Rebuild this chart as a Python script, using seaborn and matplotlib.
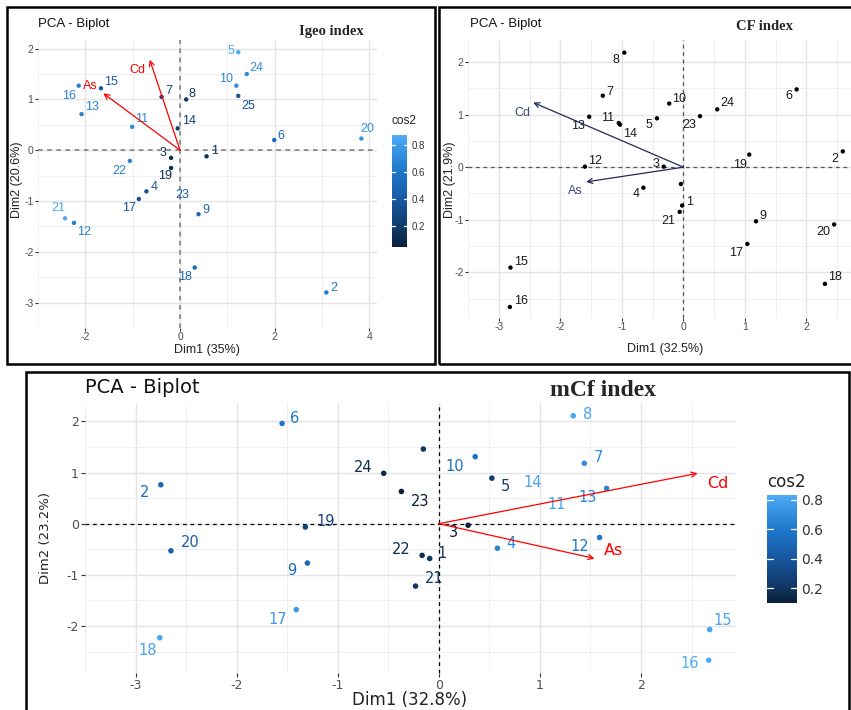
import numpy as np
import pandas as pd
import matplotlib
matplotlib.use("Agg")
import matplotlib.pyplot as plt
import seaborn as sns
from matplotlib.colors import LinearSegmentedColormap, Normalize
from matplotlib.patches import Rectangle

# ---------------- data ----------------
# Igeo index biplot
igeo_labels = [str(i) for i in range(1, 26)]
igeo_dim1 = [0.56, 3.09, -0.19, -0.71, 1.23, 1.99, -0.39, 0.13, 0.39, 1.19,
             -1.01, -2.24, -2.08, -0.05, -1.67, -2.14, -0.87, 0.31, -0.19, 3.83,
             -2.43, -1.06, 0.05, 1.41, 1.23]
igeo_dim2 = [-0.12, -2.80, -0.15, -0.81, 1.93, 0.20, 1.05, 1.00, -1.26, 1.27,
             0.46, -1.43, 0.71, 0.43, 1.22, 1.27, -0.96, -2.31, -0.35, 0.23,
             -1.34, -0.21, -0.89, 1.50, 1.07]
igeo_cos2 = [0.15, 0.60, 0.10, 0.35, 0.85, 0.50, 0.25, 0.15, 0.50, 0.70,
             0.70, 0.65, 0.65, 0.20, 0.40, 0.65, 0.35, 0.50, 0.10, 0.75,
             0.85, 0.65, 0.45, 0.70, 0.35]
igeo_unmarked = ["23"]
igeo_vars = ["As", "Cd"]
igeo_var_dim1 = [-1.62, -0.64]
igeo_var_dim2 = [1.12, 1.78]

# CF index biplot
cf_labels = [str(i) for i in range(1, 25)]
cf_labels[21] = ""
cf_dim1 = [-0.02, 2.59, -0.32, -0.65, -0.43, 1.84, -1.31, -0.96, 1.18, -0.23,
           -1.05, -1.60, -1.53, -1.03, -2.81, -2.82, 1.04, 2.30, 1.07, 2.45,
           -0.06, -0.04, 0.27, 0.55]
cf_dim2 = [-0.73, 0.30, 0.01, -0.39, 0.93, 1.48, 1.36, 2.18, -1.03, 1.21,
           0.84, 0.01, 0.96, 0.81, -1.91, -2.66, -1.46, -2.22, 0.24, -1.09,
           -0.85, -0.32, 0.97, 1.10]
cf_vars = ["As", "Cd"]
cf_var_dim1 = [-1.58, -2.44]
cf_var_dim2 = [-0.28, 1.23]

# mCf index biplot
mcf_labels = [str(i) for i in range(1, 26)]
mcf_labels[24] = ""
mcf_dim1 = [-0.09, -2.75, 0.29, 0.58, 0.525, -1.55, 1.44, 1.33, -1.30, 0.36,
            1.17, 1.59, 1.66, 0.93, 2.68, 2.67, -1.41, -2.76, -1.32, -2.65,
            -0.23, -0.165, -0.37, -0.545, -0.153]
mcf_dim2 = [-0.68, 0.76, -0.03, -0.48, 0.89, 1.96, 1.18, 2.11, -0.77, 1.31,
            0.38, -0.27, 0.69, 0.80, -2.07, -2.67, -1.68, -2.23, -0.065, -0.53,
            -1.22, -0.62, 0.63, 0.985, 1.46]
mcf_cos2 = [0.20, 0.50, 0.10, 0.65, 0.25, 0.60, 0.70, 0.80, 0.50, 0.55,
            0.80, 0.60, 0.65, 0.80, 0.80, 0.83, 0.75, 0.80, 0.30, 0.45,
            0.20, 0.15, 0.10, 0.15, 0.20]
mcf_unmarked = ["11", "14"]
mcf_vars = ["As", "Cd"]
mcf_var_dim1 = [1.54, 2.56]
mcf_var_dim2 = [-0.68, 0.985]

# label offsets (pixels) for the repelled text
igeo_off = [(8, 5), (7, 4), (-8, 5), (8, 4), (-7, 1), (7, 4), (7, 6), (6, 5), (7, 4), (-10, 7),
            (9, 8), (10, -9), (10, 7), (11, 7), (10, 6), (-10, -10), (-10, -9), (-10, -9), (-6, -8), (6, 10),
            (-7, 10), (-11, -10), (0, 0), (10, 6), (10, -10)]
igeo_var_off = [(-13, 7), (-12, -10)]
cf_off = [(7, 4), (-8, -8), (-8, 3), (-7, -6), (-8, -7), (-8, -7), (7, 4), (-8, -7), (7, 5), (10, 5),
          (-11, 5), (10, 6), (-11, -9), (10, -9), (11, 6), (11, 6), (-11, -9), (10, 7), (-9, -10), (-11, -8),
          (-11, -9), (0, 0), (-11, -9), (10, 6)]
cf_var_off = [(-11, -9), (-11, -10)]
mcf_off = [(12, 5), (-16, -8), (-15, -7), (14, 5), (14, -8), (13, 5), (14, 6), (14, 1), (-16, -7), (-20, -10),
           (0, 0), (-20, -9), (-19, -9), (0, 0), (13, 9), (-19, -3), (-19, -10), (-12, -13), (20, 6), (19, 8),
           (19, 8), (-21, 6), (19, -10), (-21, 6), (0, 0)]
mcf_var_off = [(19, 8), (20, -10)]

# ---------------- style ----------------
sns.set_theme(style="white")
plt.rcParams["axes.unicode_minus"] = False
SANS = "Liberation Sans"
WIDE = "DejaVu Sans"
SERIF = "Liberation Serif"
plt.rcParams["font.family"] = [SANS, "DejaVu Sans"]

W, H = 851, 710
fig = plt.figure(figsize=(W / 100, H / 100), dpi=100)
fig.patch.set_facecolor("white")


def px_axes(left, top, right, bottom):
    return fig.add_axes([left / W, 1 - bottom / H, (right - left) / W, (bottom - top) / H])


def ftext(x, y, s, **kw):
    fig.text(x / W, 1 - y / H, s, **kw)


# dark navy -> bright sky blue gradient for cos2
blues = LinearSegmentedColormap.from_list(
    "cos2_blues",
    [(0.0, "#0A203A"), (0.14, "#0F3661"), (0.41, "#1857A0"),
     (0.68, "#1F78CB"), (0.95, "#45A3F0"), (1.0, "#52ADF5")])


def biplot(ax, labels, d1, d2, offsets, vars_, vd1, vd2, voff, xlim, ylim,
           xticks, yticks, cos2=None, norm=None, unmarked=(), font=SANS,
           lab_size=9, tick_size=7.5, pt_size=10, arrow_color="red",
           var_text_color="red", var_size=9, zero_color="#777777", zero_lw=1.1,
           text_color="#1a1a1a", tick_len=2.2, tick_pad=1.0):
    df = pd.DataFrame({"label": labels, "Dim1": d1, "Dim2": d2})
    if cos2 is not None:
        df["cos2"] = cos2
    df["dx"] = [o[0] for o in offsets]
    df["dy"] = [o[1] for o in offsets]
    shown = df[~df["label"].isin(unmarked)]

    ax.axhline(0, color=zero_color, lw=zero_lw, ls=(0, (3, 3)), zorder=1)
    ax.axvline(0, color=zero_color, lw=zero_lw, ls=(0, (3, 3)), zorder=1)

    if cos2 is not None:
        sns.scatterplot(data=shown, x="Dim1", y="Dim2", hue="cos2", palette=blues,
                        hue_norm=norm, s=pt_size, edgecolor="none", legend=False,
                        ax=ax, zorder=3)
    else:
        sns.scatterplot(data=shown, x="Dim1", y="Dim2", color="black", s=pt_size,
                        edgecolor="none", legend=False, ax=ax, zorder=3)

    for _, r in df.iterrows():
        if not r["label"]:
            continue
        col = blues(norm(r["cos2"])) if cos2 is not None else text_color
        ax.annotate(r["label"], (r["Dim1"], r["Dim2"]), xytext=(r["dx"], r["dy"]),
                    textcoords="offset pixels", ha="center", va="center",
                    color=col, fontsize=lab_size, family=font, zorder=4)

    for name, x, y, o in zip(vars_, vd1, vd2, voff):
        ax.annotate("", xy=(x, y), xytext=(0, 0),
                    arrowprops=dict(arrowstyle="->", color=arrow_color, lw=0.9,
                                    shrinkA=0, shrinkB=0, mutation_scale=9), zorder=5)
        ax.annotate(name, (x, y), xytext=o, textcoords="offset pixels",
                    ha="center", va="center", color=var_text_color,
                    fontsize=var_size, family=font, zorder=5)

    ax.set_xlim(*xlim)
    ax.set_ylim(*ylim)
    ax.set_xticks(xticks)
    ax.set_xticklabels([str(int(t)) for t in xticks])
    ax.set_yticks(yticks)
    ax.set_yticklabels([str(int(t)) for t in yticks])
    xs = xticks[1] - xticks[0]
    ys = yticks[1] - yticks[0]
    ax.set_xticks(np.arange(xticks[0] - xs / 2, xlim[1], xs), minor=True)
    ax.set_yticks(np.arange(yticks[0] - ys / 2, ylim[1], ys), minor=True)
    ax.grid(which="major", color="#E4E4E4", lw=1.0)
    ax.grid(which="minor", color="#EFEFEF", lw=0.7)
    ax.set_axisbelow(True)
    for s in ax.spines.values():
        s.set_visible(False)
    ax.tick_params(which="major", length=tick_len, width=0.8, color="#333333",
                   labelcolor="#4D4D4D", labelsize=tick_size, pad=tick_pad,
                   bottom=True, left=True)
    ax.tick_params(which="minor", length=0)
    for t in ax.get_xticklabels() + ax.get_yticklabels():
        t.set_family(font)
    ax.set_xlabel("")
    ax.set_ylabel("")
    ax.set_facecolor("white")


def colorbar(box, norm, ticks, font, size):
    left, top, right, bottom = box
    cax = px_axes(left, top, right, bottom)
    grad = np.linspace(norm.vmin, norm.vmax, 256).reshape(-1, 1)
    cax.imshow(grad, aspect="auto", origin="lower", cmap=blues, norm=norm,
               extent=[0, 1, norm.vmin, norm.vmax])
    for t in ticks:
        cax.plot([0, 0.2], [t, t], color="white", lw=0.9)
        cax.plot([0.8, 1], [t, t], color="white", lw=0.9)
    cax.set_xlim(0, 1)
    cax.set_ylim(norm.vmin, norm.vmax)
    cax.set_xticks([])
    cax.yaxis.tick_right()
    cax.set_yticks(ticks)
    cax.set_yticklabels([f"{t:.1f}" for t in ticks], family=font, fontsize=size,
                        color="#333333")
    cax.tick_params(axis="y", length=0, pad=3)
    for s in cax.spines.values():
        s.set_visible(False)


# ---------------- panel 1: Igeo ----------------
norm1 = Normalize(0.042, 0.874)
ax1 = px_axes(38, 40, 377, 328)
biplot(ax1, igeo_labels, igeo_dim1, igeo_dim2, igeo_off, igeo_vars, igeo_var_dim1,
       igeo_var_dim2, igeo_var_off, (-2.75, 4.16), (-3.18, 2.17),
       [-2, 0, 2, 4], [-3, -2, -1, 0, 1, 2], cos2=igeo_cos2, norm=norm1,
       unmarked=igeo_unmarked)
colorbar((392, 135, 407, 247), norm1, [0.2, 0.4, 0.6, 0.8], SANS, 7)
ftext(392, 121, "cos2", family=SANS, fontsize=8.5, va="center", ha="left", color="#222222")
ftext(38, 24, "PCA - Biplot", family=SANS, fontsize=9.5, va="center", ha="left", color="#111111")
ftext(331, 31, "Igeo index", family=SERIF, fontweight="bold", fontsize=10.5, va="center", ha="center")
ftext(207, 350, "Dim1 (35%)", family=SANS, fontsize=9, va="center", ha="center", color="#222222")
ftext(17, 180, "Dim2 (20.6%)", family=SANS, fontsize=9, va="center", ha="center",
      rotation=90, color="#222222")

# ---------------- panel 2: CF ----------------
ax2 = px_axes(468, 40, 868, 318)
biplot(ax2, cf_labels, cf_dim1, cf_dim2, cf_off, cf_vars, cf_var_dim1, cf_var_dim2,
       cf_var_off, (-3.11, 3.0), (-2.87, 2.42), [-3, -2, -1, 0, 1, 2],
       [-2, -1, 0, 1, 2], arrow_color="#1F2A5C", var_text_color="#3B4B7A",
       zero_color="#555555", zero_lw=0.9)
ftext(470, 24, "PCA - Biplot", family=SANS, fontsize=9.5, va="center", ha="left", color="#111111")
ftext(765, 27, "CF index", family=SERIF, fontweight="bold", fontsize=10.5, va="center", ha="center")
ftext(665, 349, "Dim1 (32.5%)", family=SANS, fontsize=9, va="center", ha="center", color="#222222")
ftext(450, 180, "Dim2 (21.9%)", family=SANS, fontsize=9, va="center", ha="center",
      rotation=90, color="#222222")

# ---------------- panel 3: mCf ----------------
norm3 = Normalize(0.098, 0.834)
ax3 = px_axes(85, 403, 736, 673)
biplot(ax3, mcf_labels, mcf_dim1, mcf_dim2, mcf_off, mcf_vars, mcf_var_dim1,
       mcf_var_dim2, mcf_var_off, (-3.01, 2.94), (-2.92, 2.36),
       [-3, -2, -1, 0, 1, 2], [-2, -1, 0, 1, 2], cos2=mcf_cos2, norm=norm3,
       unmarked=mcf_unmarked, font=WIDE, lab_size=10.5, tick_size=9, pt_size=16,
       var_size=11.5, zero_color="black", zero_lw=0.9, tick_len=3, tick_pad=1.5)
colorbar((767, 495, 797, 603), norm3, [0.2, 0.4, 0.6, 0.8], WIDE, 10)
ftext(767, 482, "cos2", family=WIDE, fontsize=12, va="center", ha="left", color="#222222")
ftext(85, 387, "PCA - Biplot", family=WIDE, fontsize=14, va="center", ha="left", color="#111111")
ftext(603, 390, "mCf index", family=SERIF, fontweight="bold", fontsize=17, va="center", ha="center")
ftext(410, 700, "Dim1 (32.8%)", family=WIDE, fontsize=12, va="center", ha="center", color="#222222")
ftext(46, 538, "Dim2 (23.2%)", family=WIDE, fontsize=9.5, va="center", ha="center",
      rotation=90, color="#222222")

# ---------------- panel frames ----------------
for (l, t, r, b) in [(7, 7, 435, 364), (439, 7, 860, 364), (26, 372, 849, 720)]:
    fig.add_artist(Rectangle((l / W, 1 - b / H), (r - l) / W, (b - t) / H,
                             transform=fig.transFigure, fill=False, lw=1.8,
                             edgecolor="black", zorder=10))

fig.savefig("out.png", dpi=100, facecolor="white")
